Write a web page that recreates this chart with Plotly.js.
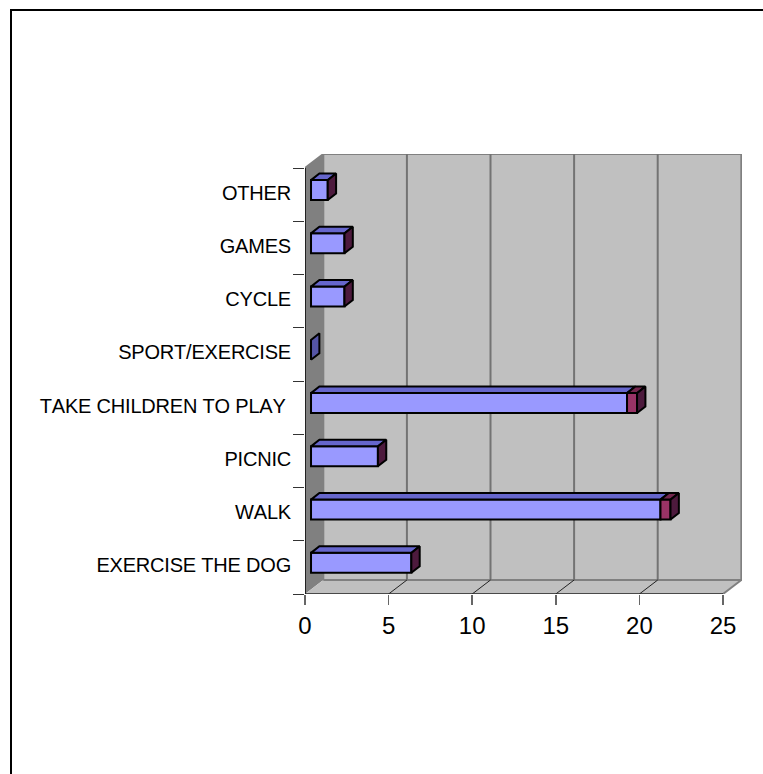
<!DOCTYPE html>
<html>
<head>
<meta charset="utf-8">
<script src="https://cdn.plot.ly/plotly-3.0.1.min.js"></script>
<style>
  html, body { margin: 0; padding: 0; background: #fff; overflow: hidden; }
  #chart { width: 763px; height: 774px; }
  /* Category labels are set tight, without pair kerning */
  .ytick text { font-kerning: none; letter-spacing: -0.2px; }
</style>
</head>
<body>
<div id="chart"></div>
<script>
// Reasons for visiting, bottom row first
const categories = ['EXERCISE THE DOG', 'WALK', 'PICNIC', 'TAKE CHILDREN TO PLAY\u00a0',
                    'SPORT/EXERCISE', 'CYCLE', 'GAMES', 'OTHER'];
const mainValues = [6, 20.9, 4, 18.9, 0, 2, 2, 1];
const extraValues = [0, 0.6, 0, 0.6, 0, 0, 0, 0];
const xTicks = [0, 5, 10, 15, 20, 25];

// Oblique projection of the box: wall depth, bar inset and bar depth, in axis units
const wallDx = 1.095, wallDy = 0.263;
const insetX = 0.36, insetY = 0.085;
const barDx = 0.5, barDy = 0.125;
const barThickness = 0.375;
const labelLift = 0.04;

const yMin = -0.5, yMax = categories.length - 0.5;
const indices = categories.map((_, i) => i);
const boundaries = [...indices.map(i => i - 0.5), yMax];
const xMax = xTicks[xTicks.length - 1];

const ink = '#000000', wallEdge = '#808080', gridColor = '#737373';
const colors = {
  front: '#9999FF', top: '#6666CC', sideEmpty: '#5555A5',
  extraFront: '#993366', extraTop: '#73264D', side: '#4D1A3D'
};

// Polygon path for a layout shape in data coordinates
const path = pts => 'M' + pts.map(p => p.join(',')).join('L') + 'Z';
const wall = (pts, fill, edge) => ({
  type: 'path', xref: 'x', yref: 'y', layer: 'below', path: path(pts),
  fillcolor: fill, line: { color: edge || fill, width: edge ? 2 : 0 }
});
const seg = (x0, y0, x1, y1, color, width) => ({
  type: 'line', xref: 'x', yref: 'y', layer: 'below', x0, y0, x1, y1,
  line: { color, width }
});

const shapes = [
  wall([[wallDx, yMin + wallDy], [xMax + wallDx, yMin + wallDy], [xMax + wallDx, yMax + wallDy], [wallDx, yMax + wallDy]], '#C0C0C0', wallEdge),
  wall([[0, yMin], [wallDx, yMin + wallDy], [wallDx, yMax + wallDy], [0, yMax]], '#808080'),
  wall([[0, yMin], [xMax, yMin], [xMax + wallDx, yMin + wallDy], [wallDx, yMin + wallDy]], '#C0C0C0'),
  seg(0, yMax, wallDx, yMax + wallDy, wallEdge, 2),
  seg(wallDx, yMin + wallDy, xMax + wallDx, yMin + wallDy, wallEdge, 2),
  seg(xMax, yMin, xMax + wallDx, yMin + wallDy, wallEdge, 2)
];
xTicks.slice(1, -1).forEach(v => {
  shapes.push(seg(v + wallDx, yMin + wallDy, v + wallDx, yMax + wallDy, gridColor, 2));
  shapes.push(seg(v, yMin, v + wallDx, yMin + wallDy, '#222222', 1));
});

// Page frame: only the left and top rules are drawn, running off the page
const plot = { l: 305, t: 154, w: 437, h: 440 };
const px = v => (v - plot.l) / plot.w;
const py = v => 1 - (v - plot.t) / plot.h;
shapes.push({ type: 'rect', xref: 'paper', yref: 'paper', layer: 'above',
  x0: px(10), x1: px(12), y0: py(774), y1: py(9), fillcolor: ink, line: { width: 0 } });
shapes.push({ type: 'rect', xref: 'paper', yref: 'paper', layer: 'above',
  x0: px(10), x1: px(763), y0: py(11), y1: py(9), fillcolor: ink, line: { width: 0 } });

// Collect projected faces as null-separated polygons
function faces(pick) {
  const xs = [], ys = [];
  indices.forEach(i => {
    const poly = pick(i);
    if (!poly) return;
    poly.forEach(p => { xs.push(p[0]); ys.push(p[1]); });
    xs.push(poly[0][0], null); ys.push(poly[0][1], null);
  });
  return { xs, ys };
}
const yLow = i => i + insetY - barThickness / 2;
const yHigh = i => i + insetY + barThickness / 2;
const topFace = (i, a, b) => [[a, yHigh(i)], [b, yHigh(i)], [b + barDx, yHigh(i) + barDy], [a + barDx, yHigh(i) + barDy]];
const sideFace = (i, e) => [[e, yLow(i)], [e + barDx, yLow(i) + barDy], [e + barDx, yHigh(i) + barDy], [e, yHigh(i)]];
const endOf = i => insetX + mainValues[i] + extraValues[i];
const isEmpty = i => mainValues[i] + extraValues[i] === 0;

const faceTrace = (f, color) => ({
  type: 'scatter', mode: 'lines', x: f.xs, y: f.ys, fill: 'toself', fillcolor: color,
  line: { color: ink, width: 2 }, hoverinfo: 'skip', showlegend: false, cliponaxis: false
});

const extraIdx = indices.filter(i => extraValues[i] > 0);
const data = [
  {
    type: 'bar', orientation: 'h', name: 'Main',
    x: mainValues, y: indices.map(i => i + insetY),
    base: indices.map(() => insetX), width: barThickness,
    marker: { color: colors.front, line: { color: ink, width: 2 } },
    showlegend: false
  },
  {
    type: 'bar', orientation: 'h', name: 'Extra',
    x: extraIdx.map(i => extraValues[i]), y: extraIdx.map(i => i + insetY),
    base: extraIdx.map(i => insetX + mainValues[i]), width: barThickness,
    marker: { color: colors.extraFront, line: { color: ink, width: 2 } },
    showlegend: false
  },
  faceTrace(faces(i => isEmpty(i) ? null : topFace(i, insetX, insetX + mainValues[i])), colors.top),
  faceTrace(faces(i => extraValues[i] > 0 ? topFace(i, insetX + mainValues[i], endOf(i)) : null), colors.extraTop),
  faceTrace(faces(i => isEmpty(i) ? null : sideFace(i, endOf(i))), colors.side),
  faceTrace(faces(i => isEmpty(i) ? sideFace(i, endOf(i)) : null), colors.sideEmpty),
  // Front axis lines
  { type: 'scatter', mode: 'lines', x: [0, 0], y: [yMin, yMax], line: { color: '#222222', width: 2 },
    hoverinfo: 'skip', showlegend: false, cliponaxis: false },
  { type: 'scatter', mode: 'lines', x: [0, xMax], y: [yMin, yMin], line: { color: '#222222', width: 1.5 },
    hoverinfo: 'skip', showlegend: false, cliponaxis: false }
];

const layout = {
  width: 763, height: 774,
  margin: { l: plot.l, r: 763 - plot.l - plot.w, t: plot.t, b: 774 - plot.t - plot.h, pad: 0 },
  paper_bgcolor: '#FFFFFF', plot_bgcolor: 'rgba(0,0,0,0)',
  barmode: 'overlay', showlegend: false,
  font: { family: '"Liberation Sans", Arial, sans-serif', color: '#000000' },
  xaxis: {
    range: [0, plot.w / 16.72], tickmode: 'array', tickvals: xTicks, ticktext: xTicks.map(String),
    ticks: 'outside', ticklen: 10, tickwidth: 1.5, tickcolor: '#666666',
    tickfont: { size: 24, color: '#000000' }, showgrid: false, zeroline: false, showline: false
  },
  yaxis: {
    range: [yMin, yMin + plot.h / 53.25], tickmode: 'array',
    tickvals: indices.map(i => i + labelLift), ticktext: categories,
    ticks: '', ticklabelstandoff: 13, tickfont: { size: 20, color: '#000000' },
    showgrid: false, zeroline: false, showline: false,
    minor: { tickmode: 'array', tickvals: boundaries, ticks: 'outside', ticklen: 11, tickwidth: 1, tickcolor: '#333333', showgrid: false }
  },
  shapes
};

Plotly.newPlot('chart', data, layout, { displayModeBar: false, staticPlot: true });
</script>
</body>
</html>
